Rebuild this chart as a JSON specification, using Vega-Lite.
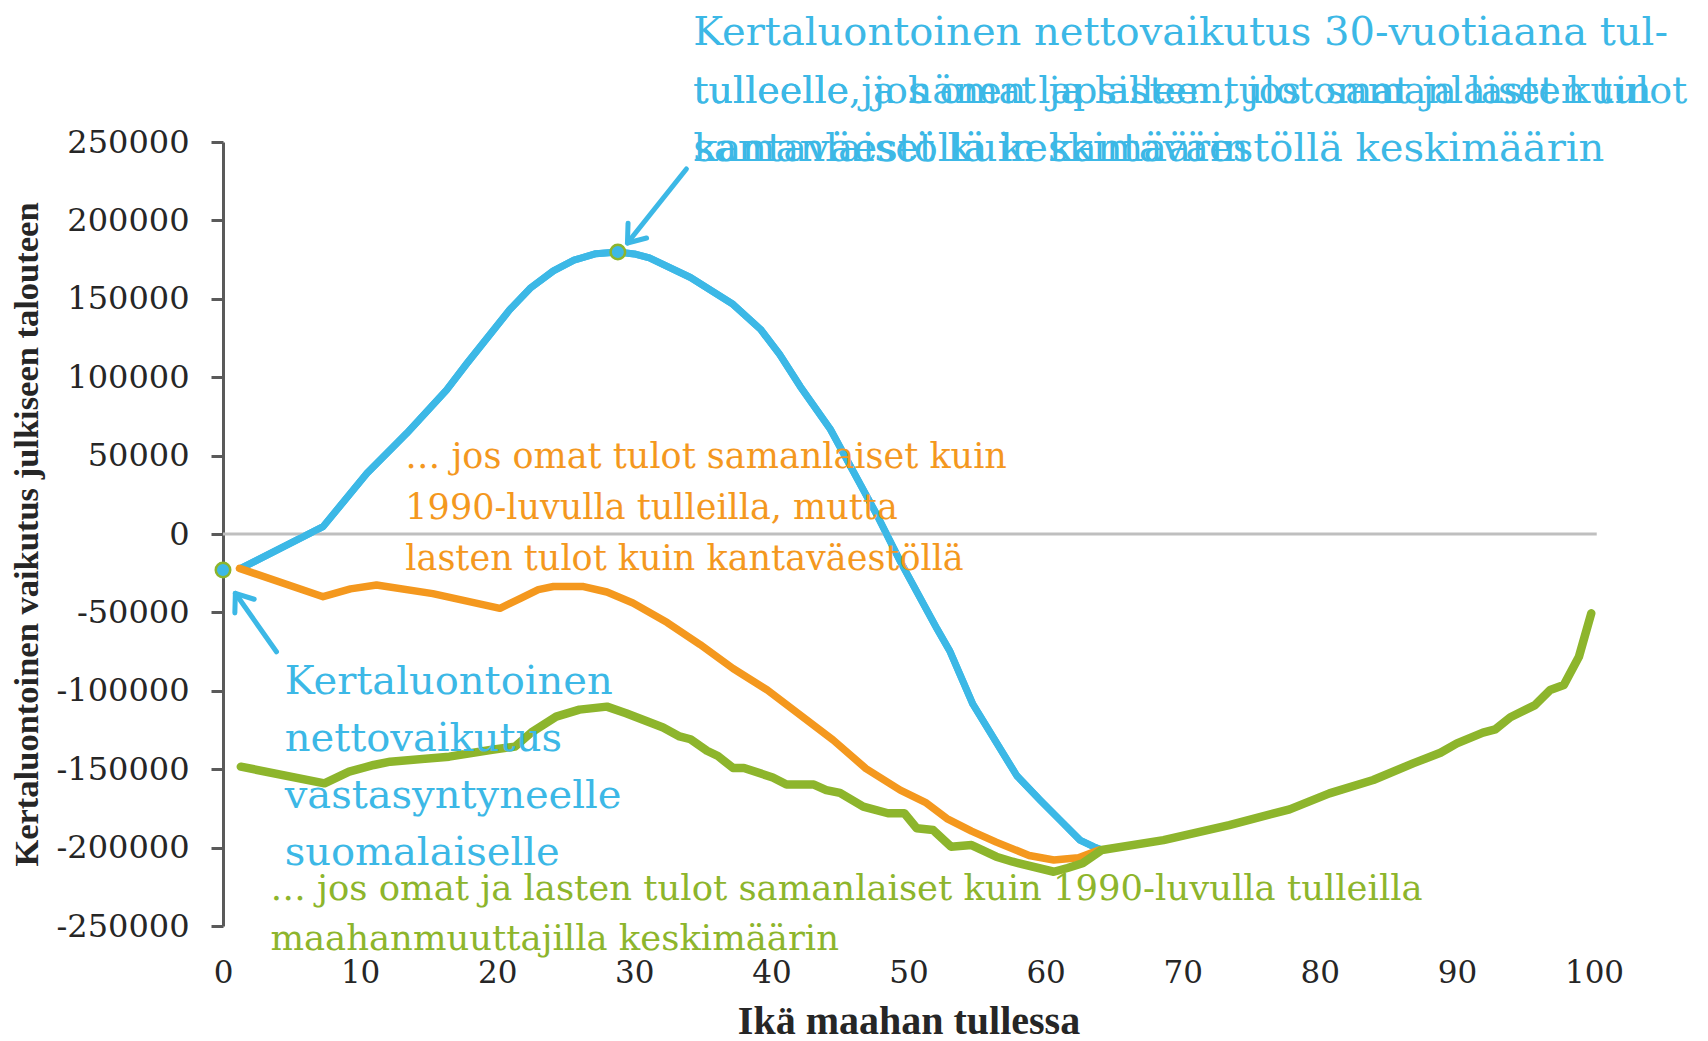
{
  "$schema": "https://vega.github.io/schema/vega-lite/v6.json",
  "width": 1371,
  "height": 784,
  "autosize": {"type": "none"},
  "padding": {"left": 223, "top": 142, "right": 114, "bottom": 115},
  "background": "white",
  "config": {
    "view": {"stroke": null},
    "axis": {"grid": false},
    "axisX": {
      "domain": false, "ticks": false,
      "labelFont": "DejaVu Serif", "labelFontSize": 31, "labelColor": "#262626",
      "labelPadding": 32, "labelFlush": false, "labelOverlap": false,
      "titleFont": "Liberation Serif", "titleFontSize": 40, "titleFontWeight": "bold",
      "titleColor": "#262626", "titlePadding": 13
    },
    "axisY": {
      "labelFont": "DejaVu Serif", "labelFontSize": 32, "labelColor": "#262626",
      "labelPadding": 22, "tickSize": 12, "tickWidth": 3, "tickColor": "#5A5A5A",
      "domainColor": "#5A5A5A", "domainWidth": 3,
      "titleFont": "Liberation Serif", "titleFontSize": 34.5, "titleFontWeight": "bold",
      "titleColor": "#262626", "titlePadding": 12
    }
  },
  "datasets": {
    "lines": [
      {"series": "kanta", "age": 1.4, "value": -21500},
      {"series": "kanta", "age": 7.3, "value": 4700},
      {"series": "kanta", "age": 10.5, "value": 38700},
      {"series": "kanta", "age": 13.4, "value": 64200},
      {"series": "kanta", "age": 16.3, "value": 91800},
      {"series": "kanta", "age": 17.8, "value": 108900},
      {"series": "kanta", "age": 20.9, "value": 142900},
      {"series": "kanta", "age": 22.4, "value": 156700},
      {"series": "kanta", "age": 24.1, "value": 167800},
      {"series": "kanta", "age": 25.6, "value": 174600},
      {"series": "kanta", "age": 27.2, "value": 178800},
      {"series": "kanta", "age": 28.8, "value": 179800},
      {"series": "kanta", "age": 30.0, "value": 178600},
      {"series": "kanta", "age": 31.1, "value": 176100},
      {"series": "kanta", "age": 34.1, "value": 163600},
      {"series": "kanta", "age": 37.2, "value": 146500},
      {"series": "kanta", "age": 39.2, "value": 130600},
      {"series": "kanta", "age": 40.6, "value": 114600},
      {"series": "kanta", "age": 42.1, "value": 94100},
      {"series": "kanta", "age": 44.3, "value": 66800},
      {"series": "kanta", "age": 46.0, "value": 39500},
      {"series": "kanta", "age": 47.7, "value": 12100},
      {"series": "kanta", "age": 49.4, "value": -17500},
      {"series": "kanta", "age": 52.1, "value": -60800},
      {"series": "kanta", "age": 53.0, "value": -74400},
      {"series": "kanta", "age": 54.7, "value": -108600},
      {"series": "kanta", "age": 57.9, "value": -154200},
      {"series": "kanta", "age": 59.6, "value": -169700},
      {"series": "kanta", "age": 61.0, "value": -182000},
      {"series": "kanta", "age": 62.5, "value": -195200},
      {"series": "kanta", "age": 63.5, "value": -199400},
      {"series": "kanta", "age": 64.1, "value": -201500},
      {"series": "oma", "age": 1.2, "value": -21900},
      {"series": "oma", "age": 7.3, "value": -40000},
      {"series": "oma", "age": 9.3, "value": -35000},
      {"series": "oma", "age": 11.2, "value": -32500},
      {"series": "oma", "age": 15.3, "value": -38000},
      {"series": "oma", "age": 20.2, "value": -47400},
      {"series": "oma", "age": 21.7, "value": -41000},
      {"series": "oma", "age": 23.0, "value": -35500},
      {"series": "oma", "age": 24.1, "value": -33500},
      {"series": "oma", "age": 26.3, "value": -33500},
      {"series": "oma", "age": 28.0, "value": -37000},
      {"series": "oma", "age": 29.9, "value": -44000},
      {"series": "oma", "age": 32.4, "value": -56500},
      {"series": "oma", "age": 34.8, "value": -70500},
      {"series": "oma", "age": 37.2, "value": -85800},
      {"series": "oma", "age": 39.7, "value": -99500},
      {"series": "oma", "age": 42.1, "value": -115400},
      {"series": "oma", "age": 44.5, "value": -131400},
      {"series": "oma", "age": 46.9, "value": -149600},
      {"series": "oma", "age": 49.4, "value": -163300},
      {"series": "oma", "age": 51.3, "value": -171500},
      {"series": "oma", "age": 52.8, "value": -181500},
      {"series": "oma", "age": 54.6, "value": -189500},
      {"series": "oma", "age": 56.4, "value": -196500},
      {"series": "oma", "age": 58.8, "value": -205000},
      {"series": "oma", "age": 60.6, "value": -207900},
      {"series": "oma", "age": 62.4, "value": -206500},
      {"series": "oma", "age": 63.9, "value": -201500},
      {"series": "maahanmuuttaja", "age": 1.3, "value": -148400},
      {"series": "maahanmuuttaja", "age": 7.4, "value": -159000},
      {"series": "maahanmuuttaja", "age": 9.2, "value": -151600},
      {"series": "maahanmuuttaja", "age": 11.0, "value": -147300},
      {"series": "maahanmuuttaja", "age": 12.2, "value": -145200},
      {"series": "maahanmuuttaja", "age": 16.5, "value": -142000},
      {"series": "maahanmuuttaja", "age": 19.5, "value": -137800},
      {"series": "maahanmuuttaja", "age": 21.3, "value": -135600},
      {"series": "maahanmuuttaja", "age": 22.5, "value": -126500},
      {"series": "maahanmuuttaja", "age": 24.3, "value": -116500},
      {"series": "maahanmuuttaja", "age": 26.0, "value": -112000},
      {"series": "maahanmuuttaja", "age": 28.0, "value": -110100},
      {"series": "maahanmuuttaja", "age": 29.4, "value": -114300},
      {"series": "maahanmuuttaja", "age": 32.1, "value": -123400},
      {"series": "maahanmuuttaja", "age": 33.3, "value": -129100},
      {"series": "maahanmuuttaja", "age": 34.1, "value": -130900},
      {"series": "maahanmuuttaja", "age": 35.3, "value": -138200},
      {"series": "maahanmuuttaja", "age": 36.1, "value": -141600},
      {"series": "maahanmuuttaja", "age": 37.2, "value": -149200},
      {"series": "maahanmuuttaja", "age": 38.0, "value": -149200},
      {"series": "maahanmuuttaja", "age": 40.1, "value": -155300},
      {"series": "maahanmuuttaja", "age": 41.1, "value": -159800},
      {"series": "maahanmuuttaja", "age": 43.1, "value": -159800},
      {"series": "maahanmuuttaja", "age": 44.0, "value": -163300},
      {"series": "maahanmuuttaja", "age": 45.0, "value": -165100},
      {"series": "maahanmuuttaja", "age": 46.7, "value": -173900},
      {"series": "maahanmuuttaja", "age": 48.5, "value": -178100},
      {"series": "maahanmuuttaja", "age": 49.7, "value": -178100},
      {"series": "maahanmuuttaja", "age": 50.6, "value": -187700},
      {"series": "maahanmuuttaja", "age": 51.8, "value": -188800},
      {"series": "maahanmuuttaja", "age": 53.1, "value": -199400},
      {"series": "maahanmuuttaja", "age": 54.6, "value": -198400},
      {"series": "maahanmuuttaja", "age": 56.4, "value": -205800},
      {"series": "maahanmuuttaja", "age": 57.6, "value": -209000},
      {"series": "maahanmuuttaja", "age": 60.6, "value": -215400},
      {"series": "maahanmuuttaja", "age": 61.6, "value": -213000},
      {"series": "maahanmuuttaja", "age": 62.7, "value": -210000},
      {"series": "maahanmuuttaja", "age": 64.1, "value": -201500},
      {"series": "maahanmuuttaja", "age": 68.6, "value": -195200},
      {"series": "maahanmuuttaja", "age": 73.4, "value": -185600},
      {"series": "maahanmuuttaja", "age": 77.8, "value": -175600},
      {"series": "maahanmuuttaja", "age": 80.7, "value": -165400},
      {"series": "maahanmuuttaja", "age": 83.9, "value": -156900},
      {"series": "maahanmuuttaja", "age": 86.8, "value": -146300},
      {"series": "maahanmuuttaja", "age": 88.8, "value": -139500},
      {"series": "maahanmuuttaja", "age": 90.0, "value": -133500},
      {"series": "maahanmuuttaja", "age": 91.9, "value": -126700},
      {"series": "maahanmuuttaja", "age": 92.8, "value": -124600},
      {"series": "maahanmuuttaja", "age": 93.9, "value": -116900},
      {"series": "maahanmuuttaja", "age": 95.7, "value": -109100},
      {"series": "maahanmuuttaja", "age": 96.8, "value": -99500},
      {"series": "maahanmuuttaja", "age": 97.8, "value": -96300},
      {"series": "maahanmuuttaja", "age": 98.9, "value": -78300},
      {"series": "maahanmuuttaja", "age": 99.8, "value": -50600}
    ],
    "markers": [
      {"age": 0, "value": -23000},
      {"age": 28.8, "value": 179800}
    ]
  },
  "layer": [
    {
      "data": {"name": "lines"},
      "transform": [{"filter": "datum.series == 'kanta'"}],
      "mark": {"type": "line", "color": "#3CB8E6", "strokeWidth": 7, "strokeJoin": "round", "strokeCap": "round"},
      "encoding": {
        "x": {
          "field": "age", "type": "quantitative",
          "scale": {"domain": [0, 100], "nice": false, "zero": false},
          "axis": {
            "values": [0, 10, 20, 30, 40, 50, 60, 70, 80, 90, 100],
            "labelExpr": "'' + datum.value",
            "title": "Ikä maahan tullessa"
          }
        },
        "y": {
          "field": "value", "type": "quantitative",
          "scale": {"domain": [-250000, 250000], "nice": false},
          "axis": {
            "values": [-250000, -200000, -150000, -100000, -50000, 0, 50000, 100000, 150000, 200000, 250000],
            "labelExpr": "'' + datum.value",
            "title": "Kertaluontoinen vaikutus julkiseen talouteen"
          }
        }
      }
    },
    {
      "data": {"values": [{}]},
      "mark": {"type": "rule", "color": "#BFBFBF", "strokeWidth": 3},
      "encoding": {
        "x": {"datum": 0, "type": "quantitative", "scale": {"domain": [0, 100], "nice": false, "zero": false}},
        "x2": {"datum": 100.2},
        "y": {"datum": 0, "type": "quantitative", "scale": {"domain": [-250000, 250000], "nice": false}}
      }
    },
    {
      "data": {"name": "lines"},
      "transform": [{"filter": "datum.series == 'kanta'"}],
      "mark": {"type": "line", "color": "#3CB8E6", "strokeWidth": 7, "strokeJoin": "round", "strokeCap": "round"},
      "encoding": {
        "x": {"field": "age", "type": "quantitative", "scale": {"domain": [0, 100], "nice": false, "zero": false}},
        "y": {"field": "value", "type": "quantitative", "scale": {"domain": [-250000, 250000], "nice": false}}
      }
    },
    {
      "data": {"name": "lines"},
      "transform": [{"filter": "datum.series == 'oma'"}],
      "mark": {"type": "line", "color": "#F4981E", "strokeWidth": 7.5, "strokeJoin": "round", "strokeCap": "round"},
      "encoding": {
        "x": {"field": "age", "type": "quantitative", "scale": {"domain": [0, 100], "nice": false, "zero": false}},
        "y": {"field": "value", "type": "quantitative", "scale": {"domain": [-250000, 250000], "nice": false}}
      }
    },
    {
      "data": {"name": "lines"},
      "transform": [{"filter": "datum.series == 'maahanmuuttaja'"}],
      "mark": {"type": "line", "color": "#8DB52C", "strokeWidth": 8.5, "strokeJoin": "round", "strokeCap": "round"},
      "encoding": {
        "x": {"field": "age", "type": "quantitative", "scale": {"domain": [0, 100], "nice": false, "zero": false}},
        "y": {"field": "value", "type": "quantitative", "scale": {"domain": [-250000, 250000], "nice": false}}
      }
    },
    {
      "data": {"name": "markers"},
      "mark": {"type": "point", "shape": "circle", "filled": true, "fill": "#3CB8E6", "stroke": "#8DB52C", "strokeWidth": 2.5, "size": 210, "opacity": 1},
      "encoding": {
        "x": {"field": "age", "type": "quantitative", "scale": {"domain": [0, 100], "nice": false, "zero": false}},
        "y": {"field": "value", "type": "quantitative", "scale": {"domain": [-250000, 250000], "nice": false}}
      }
    },
    {
      "data": {"values": [{}]},
      "mark": {"type": "rule", "color": "#3CB8E6", "strokeWidth": 5, "strokeCap": "round"},
      "encoding": {
        "x": {"datum": 33.8, "type": "quantitative", "scale": {"domain": [0, 100], "nice": false, "zero": false}},
        "y": {"datum": 232800, "type": "quantitative", "scale": {"domain": [-250000, 250000], "nice": false}},
        "x2": {"datum": 29.5},
        "y2": {"datum": 185600}
      }
    },
    {
      "data": {"values": [{}]},
      "mark": {"type": "point", "shape": "M -1 -0.75 L 0 0 L -1 0.75", "filled": false, "stroke": "#3CB8E6", "strokeWidth": 5, "strokeCap": "round", "strokeJoin": "round", "size": 1000, "angle": 128.6, "opacity": 1},
      "encoding": {
        "x": {"datum": 29.5, "type": "quantitative", "scale": {"domain": [0, 100], "nice": false, "zero": false}},
        "y": {"datum": 185600, "type": "quantitative", "scale": {"domain": [-250000, 250000], "nice": false}}
      }
    },
    {
      "data": {"values": [{}]},
      "mark": {"type": "rule", "color": "#3CB8E6", "strokeWidth": 5, "strokeCap": "round"},
      "encoding": {
        "x": {"datum": 3.9, "type": "quantitative", "scale": {"domain": [0, 100], "nice": false, "zero": false}},
        "y": {"datum": -75100, "type": "quantitative", "scale": {"domain": [-250000, 250000], "nice": false}},
        "x2": {"datum": 0.9},
        "y2": {"datum": -37800}
      }
    },
    {
      "data": {"values": [{}]},
      "mark": {"type": "point", "shape": "M -1 -0.75 L 0 0 L -1 0.75", "filled": false, "stroke": "#3CB8E6", "strokeWidth": 5, "strokeCap": "round", "strokeJoin": "round", "size": 1000, "angle": 234.5, "opacity": 1},
      "encoding": {
        "x": {"datum": 0.9, "type": "quantitative", "scale": {"domain": [0, 100], "nice": false, "zero": false}},
        "y": {"datum": -37800, "type": "quantitative", "scale": {"domain": [-250000, 250000], "nice": false}}
      }
    },
    {
      "data": {"values": [{}]},
      "mark": {"type": "text", "font": "DejaVu Serif", "fontSize": 40, "color": "#3CB8E6", "align": "left", "baseline": "alphabetic"},
      "encoding": {
        "x": {"datum": 34.3, "type": "quantitative", "scale": {"domain": [0, 100], "nice": false, "zero": false}},
        "y": {"datum": 312100, "type": "quantitative", "scale": {"domain": [-250000, 250000], "nice": false}},
        "text": {"value": "Kertaluontoinen nettovaikutus 30-vuotiaana tul-"}
      }
    },
    {
      "data": {"values": [{}]},
      "mark": {"type": "text", "font": "DejaVu Serif", "fontSize": 38, "color": "#3CB8E6", "align": "left", "baseline": "alphabetic"},
      "encoding": {
        "x": {"datum": 34.3, "type": "quantitative", "scale": {"domain": [0, 100], "nice": false, "zero": false}},
        "y": {"datum": 274600, "type": "quantitative", "scale": {"domain": [-250000, 250000], "nice": false}},
        "text": {"value": "tulleelle, jos omat ja lasten tulot samanlaiset kuin"}
      }
    },
    {
      "data": {"values": [{}]},
      "mark": {"type": "text", "font": "DejaVu Serif", "fontSize": 38, "color": "#3CB8E6", "align": "left", "baseline": "alphabetic"},
      "encoding": {
        "x": {"datum": 34.3, "type": "quantitative", "scale": {"domain": [0, 100], "nice": false, "zero": false}},
        "y": {"datum": 274600, "type": "quantitative", "scale": {"domain": [-250000, 250000], "nice": false}},
        "text": {"value": "tulleelle ja hänen lapsilleen, jos omat ja lasten tulot"}
      }
    },
    {
      "data": {"values": [{}]},
      "mark": {"type": "text", "font": "DejaVu Serif", "fontSize": 40, "color": "#3CB8E6", "align": "left", "baseline": "alphabetic"},
      "encoding": {
        "x": {"datum": 34.3, "type": "quantitative", "scale": {"domain": [0, 100], "nice": false, "zero": false}},
        "y": {"datum": 238000, "type": "quantitative", "scale": {"domain": [-250000, 250000], "nice": false}},
        "text": {"value": "kantaväestöllä keskimäärin"}
      }
    },
    {
      "data": {"values": [{}]},
      "mark": {"type": "text", "font": "DejaVu Serif", "fontSize": 40, "color": "#3CB8E6", "align": "left", "baseline": "alphabetic"},
      "encoding": {
        "x": {"datum": 34.3, "type": "quantitative", "scale": {"domain": [0, 100], "nice": false, "zero": false}},
        "y": {"datum": 238000, "type": "quantitative", "scale": {"domain": [-250000, 250000], "nice": false}},
        "text": {"value": "samanlaiset kuin kantaväestöllä keskimäärin"}
      }
    },
    {
      "data": {"values": [{}]},
      "mark": {"type": "text", "font": "DejaVu Serif", "fontSize": 35, "color": "#F4981E", "align": "left", "baseline": "alphabetic", "lineHeight": 51},
      "encoding": {
        "x": {"datum": 13.3, "type": "quantitative", "scale": {"domain": [0, 100], "nice": false, "zero": false}},
        "y": {"datum": 41800, "type": "quantitative", "scale": {"domain": [-250000, 250000], "nice": false}},
        "text": {"value": ["… jos omat tulot samanlaiset kuin", "1990-luvulla tulleilla, mutta", "lasten tulot kuin kantaväestöllä"]}
      }
    },
    {
      "data": {"values": [{}]},
      "mark": {"type": "text", "font": "DejaVu Serif", "fontSize": 40, "color": "#3CB8E6", "align": "left", "baseline": "alphabetic", "lineHeight": 57},
      "encoding": {
        "x": {"datum": 4.5, "type": "quantitative", "scale": {"domain": [0, 100], "nice": false, "zero": false}},
        "y": {"datum": -102000, "type": "quantitative", "scale": {"domain": [-250000, 250000], "nice": false}},
        "text": {"value": ["Kertaluontoinen", "nettovaikutus", "vastasyntyneelle", "suomalaiselle"]}
      }
    },
    {
      "data": {"values": [{}]},
      "mark": {"type": "text", "font": "DejaVu Serif", "fontSize": 35.4, "color": "#8DB52C", "align": "left", "baseline": "alphabetic", "lineHeight": 50.5},
      "encoding": {
        "x": {"datum": 3.46, "type": "quantitative", "scale": {"domain": [0, 100], "nice": false, "zero": false}},
        "y": {"datum": -233400, "type": "quantitative", "scale": {"domain": [-250000, 250000], "nice": false}},
        "text": {"value": ["… jos omat ja lasten tulot samanlaiset kuin 1990-luvulla tulleilla", "maahanmuuttajilla keskimäärin"]}
      }
    }
  ]
}
